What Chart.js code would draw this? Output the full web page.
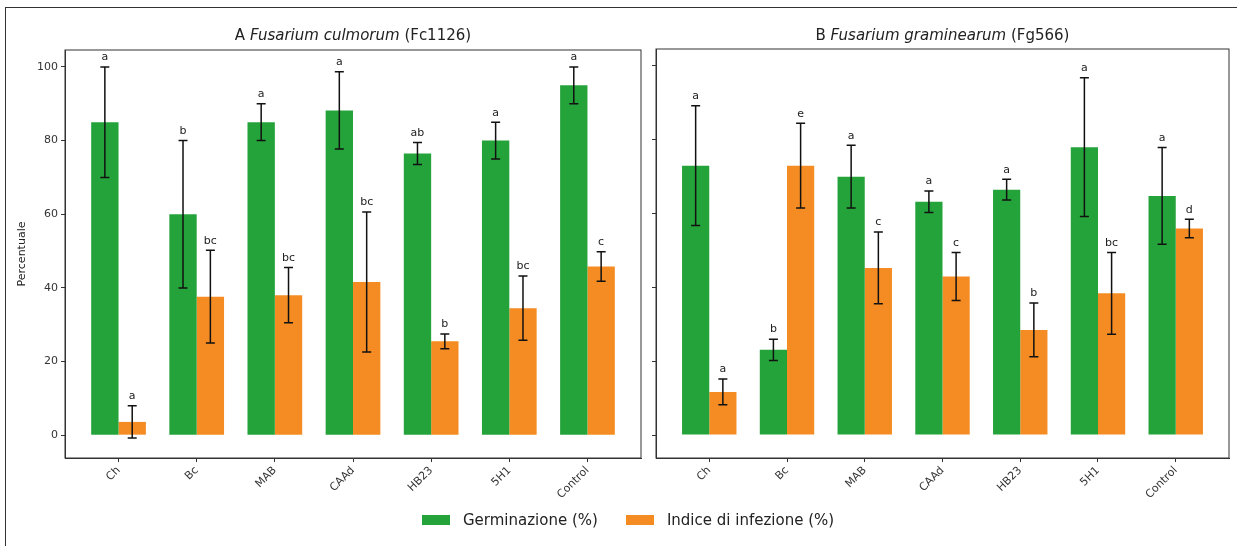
<!DOCTYPE html>
<html>
<head>
<meta charset="utf-8">
<script src="https://cdn.jsdelivr.net/npm/chart.js@4/dist/chart.umd.min.js"></script>
<style>
  body { margin: 0; background: #fff; }
  #wrap { position: relative; width: 1237px; height: 546px; overflow: hidden; background: #fff; }
  #frame { position: absolute; left: 5px; top: 7px; width: 1240px; height: 560px;
           border-left: 1.5px solid #333; border-top: 1.5px solid #333; }
  canvas { position: absolute; top: 0; }
  #chartA { left: 0; }
  #chartB { left: 645px; }
  #legend { position: absolute; left: 422px; top: 511px; display: flex; align-items: center;
            font-family: "DejaVu Sans", sans-serif; font-size: 15px; color: #222; }
  .sw { display: inline-block; width: 28px; height: 10px; margin-right: 13px; }
  .item { display: flex; align-items: center; margin-right: 28px; }
</style>
</head>
<body>
<div id="wrap">
  <div id="frame"></div>
  <canvas id="chartA" width="650" height="546"></canvas>
  <canvas id="chartB" width="592" height="546"></canvas>
  <div id="legend"></div>
</div>
<script>
const categories = ['Ch', 'Bc', 'MAB', 'CAAd', 'HB23', '5H1', 'Control'];
const yTicks = [0, 20, 40, 60, 80, 100];
const seriesNames = ['Germinazione (%)', 'Indice di infezione (%)'];
const seriesColors = ['#24a33a', '#f58c23'];

// A - Fusarium culmorum
const titleA = ['A ', 'Fusarium culmorum', ' (Fc1126)'];
const germA = [85, 60, 85, 88.2, 76.5, 80, 95];
const germErrA = [15, 20, 5, 10.5, 3, 5, 5];
const germLetA = ['a', 'b', 'a', 'a', 'ab', 'a', 'a'];
const infA = [3.6, 37.6, 38, 41.6, 25.5, 34.5, 45.8];
const infErrA = [4.4, 12.6, 7.5, 19, 2, 8.7, 4];
const infLetA = ['a', 'bc', 'bc', 'bc', 'b', 'bc', 'c'];

// B - Fusarium graminearum
const titleB = ['B ', 'Fusarium graminearum', ' (Fg566)'];
const germB = [73, 23.1, 70, 63.2, 66.5, 78, 64.8];
const germErrB = [16.2, 2.9, 8.5, 2.9, 2.8, 18.8, 13.1];
const germLetB = ['a', 'b', 'a', 'a', 'a', 'a', 'a'];
const infB = [11.7, 73, 45.3, 43, 28.5, 38.4, 56];
const infErrB = [3.5, 11.5, 9.7, 6.5, 7.3, 11.1, 2.5];
const infLetB = ['a', 'e', 'c', 'c', 'b', 'bc', 'd'];

const FONT = '"DejaVu Sans", sans-serif';

const errorBars = {
    id: 'errorBars',
    afterDatasetsDraw(chart) {
        const ctx = chart.ctx;
        const y = chart.scales.y;
        ctx.save();
        ctx.strokeStyle = '#111';
        ctx.lineWidth = 1.5;
        ctx.fillStyle = '#222';
        ctx.font = '11px ' + FONT;
        ctx.textAlign = 'center';
        ctx.textBaseline = 'bottom';
        chart.data.datasets.forEach((ds, di) => {
            const meta = chart.getDatasetMeta(di);
            meta.data.forEach((bar, i) => {
                const v = ds.data[i].y;
                const e = ds.errors[i];
                const top = y.getPixelForValue(v + e);
                const bot = y.getPixelForValue(v - e);
                ctx.beginPath();
                ctx.moveTo(bar.x, top);
                ctx.lineTo(bar.x, bot);
                ctx.moveTo(bar.x - 4.5, top);
                ctx.lineTo(bar.x + 4.5, top);
                ctx.moveTo(bar.x - 4.5, bot);
                ctx.lineTo(bar.x + 4.5, bot);
                ctx.stroke();
                ctx.fillText(ds.letters[i], bar.x, top - 4);
            });
        });
        ctx.restore();
    }
};

const panelFrame = {
    id: 'panelFrame',
    afterDraw(chart, args, opts) {
        const ctx = chart.ctx;
        const a = chart.chartArea;
        ctx.save();
        ctx.strokeStyle = '#333';
        ctx.lineWidth = 1;
        ctx.strokeRect(a.left, a.top, a.right - a.left, a.bottom - a.top);
        // title with italic species name
        const parts = opts.parts;
        const fonts = ['15px ' + FONT, 'italic 15px ' + FONT, '15px ' + FONT];
        let w = 0;
        parts.forEach((p, i) => { ctx.font = fonts[i]; w += ctx.measureText(p).width; });
        let x = (a.left + a.right) / 2 - w / 2;
        ctx.fillStyle = '#222';
        ctx.textBaseline = 'middle';
        ctx.textAlign = 'left';
        parts.forEach((p, i) => {
            ctx.font = fonts[i];
            ctx.fillText(p, x, 36);
            x += ctx.measureText(p).width;
        });
        ctx.restore();
    }
};

function makeChart(id, title, germ, germErr, germLet, inf, infErr, infLet, yAxisWidth, padding, showY) {
    return new Chart(document.getElementById(id), {
        type: 'bar',
        data: {
            datasets: [
                {
                    label: seriesNames[0],
                    data: germ.map((v, i) => ({ x: i, y: v })),
                    errors: germErr,
                    letters: germLet,
                    backgroundColor: seriesColors[0]
                },
                {
                    label: seriesNames[1],
                    data: inf.map((v, i) => ({ x: i, y: v })),
                    errors: infErr,
                    letters: infLet,
                    backgroundColor: seriesColors[1]
                }
            ]
        },
        options: {
            responsive: false,
            animation: false,
            categoryPercentage: 0.7,
            barPercentage: 1.0,
            layout: { padding: padding },
            plugins: {
                legend: { display: false },
                tooltip: { enabled: false },
                panelFrame: { parts: title }
            },
            scales: {
                x: {
                    type: 'linear',
                    offset: false,
                    min: -0.685,
                    max: 6.685,
                    afterBuildTicks: (axis) => { axis.ticks = categories.map((c, i) => ({ value: i })); },
                    afterFit: (axis) => { axis.height = 80; },
                    grid: { offset: false, drawOnChartArea: false, tickLength: 4, color: '#333' },
                    border: { display: true, color: '#333', width: 1 },
                    ticks: {
                        minRotation: 45,
                        maxRotation: 45,
                        padding: 2,
                        color: '#333',
                        font: { family: FONT, size: 11 },
                        callback: (v) => categories[v]
                    }
                },
                y: {
                    min: -6.2,
                    max: 104.6,
                    afterBuildTicks: (axis) => { axis.ticks = yTicks.map(v => ({ value: v })); },
                    afterFit: (axis) => { axis.width = yAxisWidth; },
                    grid: { drawOnChartArea: false, tickLength: 4, color: '#333' },
                    border: { display: true, color: '#333', width: 1 },
                    title: {
                        display: showY,
                        text: 'Percentuale',
                        color: '#222',
                        font: { family: FONT, size: 11 }
                    },
                    ticks: {
                        display: showY,
                        padding: 3,
                        color: '#333',
                        font: { family: FONT, size: 11 }
                    }
                }
            }
        },
        plugins: [errorBars, panelFrame]
    });
}

makeChart('chartA', titleA, germA, germErrA, germLetA, infA, infErrA, infLetA,
    53, { left: 12, top: 50, right: 9, bottom: 8 }, true);
makeChart('chartB', titleB, germB, germErrB, germLetB, infB, infErrB, infLetB,
    11, { left: 0, top: 49, right: 8, bottom: 8 }, false);

const legend = document.getElementById('legend');
seriesNames.forEach((name, i) => {
    const item = document.createElement('div');
    item.classList.add('item');
    item.innerHTML = `<span class="sw" style="background:${seriesColors[i]}"></span>${name}`;
    legend.appendChild(item);
});
</script>
</body>
</html>
